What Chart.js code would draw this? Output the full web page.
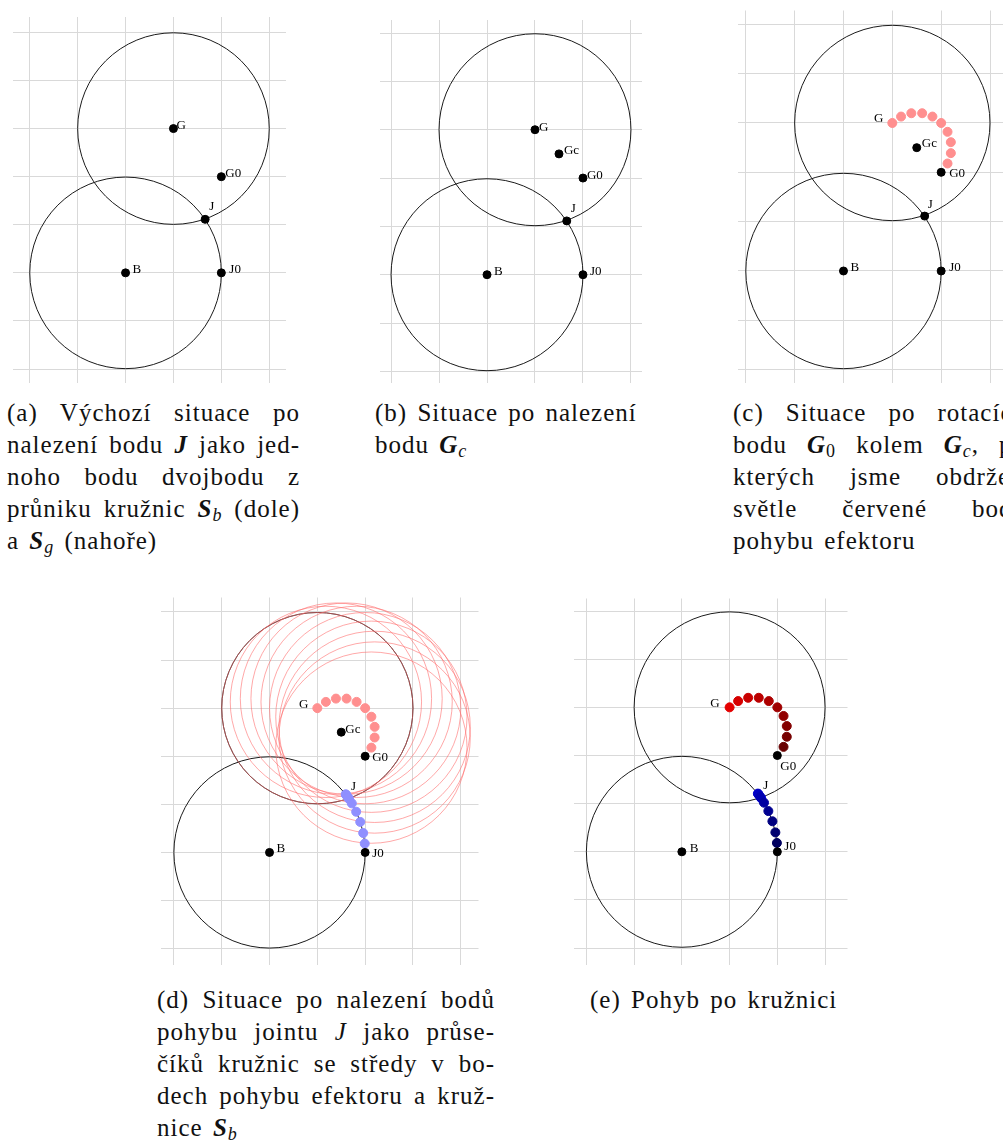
<!DOCTYPE html>
<html>
<head>
<meta charset="utf-8">
<script src="https://cdn.jsdelivr.net/npm/chart.js@4.4.1/dist/chart.umd.min.js"></script>
<style>
  body { margin: 0; background: #fff; }
  #page { position: relative; width: 1003px; height: 1140px; overflow: hidden; background: #fff; }
  .panel { position: absolute; }
  .cap { position: absolute; font-family: "Liberation Serif", "Times New Roman", Tinos, "DejaVu Serif", serif; font-size: 25px; line-height: 32px; color: #111; letter-spacing: 1px; word-spacing: 3px; }
  .cap div { white-space: nowrap; }
  .cap .j { text-align: justify; text-align-last: justify; white-space: normal; }
  .cap b { font-style: italic; }
  .cap sub { font-size: 18px; font-style: italic; vertical-align: -4px; line-height: 0; }
</style>
</head>
<body>
<div id="page">
  <canvas id="ca" class="panel"></canvas>
  <canvas id="cb" class="panel"></canvas>
  <canvas id="cc" class="panel"></canvas>
  <canvas id="cd" class="panel"></canvas>
  <canvas id="ce" class="panel"></canvas>

  <div class="cap" style="left:7px; top:397px; width:293px;">
    <div class="j">(a) Výchozí situace po</div>
    <div class="j">nalezení bodu <b>J</b> jako jed-</div>
    <div class="j">noho bodu dvojbodu z</div>
    <div class="j">průniku kružnic <b>S</b><sub>b</sub> (dole)</div>
    <div>a <b>S</b><sub>g</sub> (nahoře)</div>
  </div>
  <div class="cap" style="left:375px; top:397px; width:293px;">
    <div>(b) Situace po nalezení</div>
    <div>bodu <b>G</b><sub>c</sub></div>
  </div>
  <div class="cap" style="left:733px; top:397px; width:293px;">
    <div class="j">(c) Situace po rotacích</div>
    <div class="j">bodu <b>G</b><sub style="font-style:normal">0</sub> kolem <b>G</b><sub>c</sub>, po</div>
    <div class="j">kterých jsme obdrželi</div>
    <div class="j">světle červené body</div>
    <div>pohybu efektoru</div>
  </div>
  <div class="cap" style="left:157px; top:984px; width:338px;">
    <div class="j">(d) Situace po nalezení bodů</div>
    <div class="j">pohybu jointu <i>J</i> jako průse-</div>
    <div class="j">číků kružnic se středy v bo-</div>
    <div class="j">dech pohybu efektoru a kruž-</div>
    <div>nice <b>S</b><sub>b</sub></div>
  </div>
  <div class="cap" style="left:590px; top:984px;">
    <div>(e) Pohyb po kružnici</div>
  </div>
</div>
<script>
Chart.defaults.animation = false;
Chart.defaults.plugins.legend.display = false;
Chart.defaults.plugins.tooltip.enabled = false;

// named points of the mechanism
const names = ["B", "J0", "G0", "G", "J", "Gc"];
const ptX = [0, 2, 2, 1, 1.662, 1.5];
const ptY = [0, 0, 2, 3, 1.113, 2.5];
const radius = 2;

// effector path (G -> G0, rotation around Gc)
const effX = [1.0, 1.179, 1.389, 1.611, 1.821, 2.0, 2.13, 2.198, 2.198, 2.13];
const effY = [3.0, 3.13, 3.198, 3.198, 3.13, 3.0, 2.821, 2.611, 2.389, 2.179];

// joint path (J -> J0), intersections with S_b
const jntX = [1.662, 1.616, 1.593, 1.601, 1.645, 1.721, 1.812, 1.897, 1.959, 1.991];
const jntY = [1.113, 1.178, 1.209, 1.198, 1.138, 1.02, 0.846, 0.634, 0.403, 0.184];

const P = (n) => ({ x: ptX[names.indexOf(n)], y: ptY[names.indexOf(n)] });
const pts = (xs, ys) => xs.map((x, i) => ({ x, y: ys[i] }));

const GRID = "#d9d9d9";
const LIGHT_RED = "#ff8f8f";
const LIGHT_BLUE = "#8f8fff";
const SERIF = '"Liberation Serif", "Times New Roman", Tinos, "DejaVu Serif", serif';

function mix(a, b, t) {
  return `rgb(${a.map((v, i) => Math.round(v + (b[i] - v) * t)).join(",")})`;
}
const redShades = effX.map((_, i) => mix([228, 0, 0], [105, 0, 0], i / (effX.length - 1)));
const blueShades = jntX.map((_, i) => mix([0, 0, 245], [0, 0, 95], i / (jntX.length - 1)));

const circlePlugin = {
  id: "circles",
  beforeDatasetsDraw(chart, args, opts) {
    const { ctx, scales: { x, y }, chartArea } = chart;
    ctx.save();
    ctx.beginPath();
    ctx.rect(chartArea.left, chartArea.top, chartArea.right - chartArea.left, chartArea.bottom - chartArea.top);
    ctx.clip();
    (opts.items || []).forEach((c) => {
      const px = x.getPixelForValue(c.x), py = y.getPixelForValue(c.y);
      const r = Math.abs(x.getPixelForValue(c.x + c.r) - px);
      ctx.beginPath();
      ctx.arc(px, py, r, 0, Math.PI * 2);
      ctx.strokeStyle = c.color;
      ctx.lineWidth = c.width || 1;
      ctx.stroke();
    });
    ctx.restore();
  },
};

const labelPlugin = {
  id: "ptlabels",
  afterDatasetsDraw(chart, args, opts) {
    const { ctx, scales: { x, y } } = chart;
    ctx.save();
    ctx.font = "13px " + SERIF;
    ctx.fillStyle = "#000";
    ctx.textBaseline = "middle";
    (opts.items || []).forEach(([name, dx, dy, align]) => {
      const p = P(name);
      ctx.textAlign = align || "left";
      ctx.fillText(name, x.getPixelForValue(p.x) + dx, y.getPixelForValue(p.y) + dy);
    });
    ctx.restore();
  },
};

function blackSet(list) {
  return { data: list.map(P), backgroundColor: "#000", borderColor: "#000", pointRadius: 4, order: 0 };
}

function panel(id, box, xr, yr, datasets, circles, labels) {
  const cv = document.getElementById(id);
  cv.width = box[2];
  cv.height = box[3];
  cv.style.left = box[0] + "px";
  cv.style.top = box[1] + "px";
  cv.style.width = box[2] + "px";
  cv.style.height = box[3] + "px";
  const axis = (r) => ({
    type: "linear", min: r[0], max: r[1],
    ticks: { display: false, stepSize: 1, includeBounds: false },
    grid: { color: GRID, lineWidth: 1, drawTicks: false },
    border: { display: false },
  });
  new Chart(cv, {
    type: "scatter",
    data: { datasets },
    options: {
      responsive: false,
      devicePixelRatio: 1,
      layout: { padding: 0 },
      scales: { x: axis(xr), y: axis(yr) },
      plugins: { circles: { items: circles }, ptlabels: { items: labels } },
    },
    plugins: [circlePlugin, labelPlugin],
  });
}

const Sb = { ...P("B"), r: radius, color: "#1a1a1a" };
const Sg = { ...P("G"), r: radius, color: "#1a1a1a" };

// (a)
panel("ca", [8, 12, 283, 376], [-2.35, 3.35], [-2.29, 5.32],
  [blackSet(["B", "J0", "G", "G0", "J"])],
  [Sb, Sg],
  [["G", 3, -3], ["G0", 4, -3], ["J", 4, -13], ["B", 7, -3], ["J0", 8, -3]]);

// (b)
panel("cb", [375, 15, 272, 373], [-2.23, 3.23], [-2.24, 5.27],
  [blackSet(["B", "J0", "G", "G0", "J", "Gc"])],
  [Sb, Sg],
  [["G", 4, -2], ["Gc", 5, -3], ["G0", 4, -2], ["J", 4, -12], ["B", 7, -3], ["J0", 7, -3]]);

// (c)
panel("cc", [732, 5, 285, 383], [-2.17, 3.44], [-2.26, 5.28],
  [blackSet(["B", "J0", "G0", "J", "Gc"]),
   { data: pts(effX, effY), backgroundColor: LIGHT_RED, borderColor: LIGHT_RED, pointRadius: 4.5, order: 2 }],
  [Sb, Sg],
  [["G", -9, -4, "right"], ["Gc", 5, -4], ["G0", 8, 1], ["J", 3, -12], ["B", 7, -3], ["J0", 8, -3]]);

// (d)
panel("cd", [155, 592, 329, 378], [-2.28, 4.37], [-2.33, 5.3],
  [blackSet(["B", "J0", "G0", "Gc"]),
   { data: pts(jntX, jntY), backgroundColor: LIGHT_BLUE, borderColor: LIGHT_BLUE, pointRadius: 4.5, order: 1 },
   { data: pts(effX, effY), backgroundColor: LIGHT_RED, borderColor: LIGHT_RED, pointRadius: 4.5, order: 2 }],
  [Sb, Sg, ...effX.map((x, i) => ({ x, y: effY[i], r: radius, color: "rgba(255,110,110,0.6)" }))],
  [["G", -9, -4, "right"], ["Gc", 4, -3], ["G0", 7, 1], ["J", 2, -12], ["B", 7, -4], ["J0", 7, 1]]);

// (e)
panel("ce", [568, 593, 285, 377], [-2.27, 3.47], [-2.34, 5.26],
  [blackSet(["B", "J0", "G0"]),
   { data: pts(jntX, jntY), backgroundColor: blueShades, borderColor: blueShades, pointRadius: 4.5, order: 1 },
   { data: pts(effX, effY), backgroundColor: redShades, borderColor: redShades, pointRadius: 4.5, order: 2 }],
  [Sb, Sg],
  [["G", -10, -4, "right"], ["G0", 3, 11], ["J", 2, -13], ["B", 8, -3], ["J0", 7, -5]]);
</script>
</body>
</html>
